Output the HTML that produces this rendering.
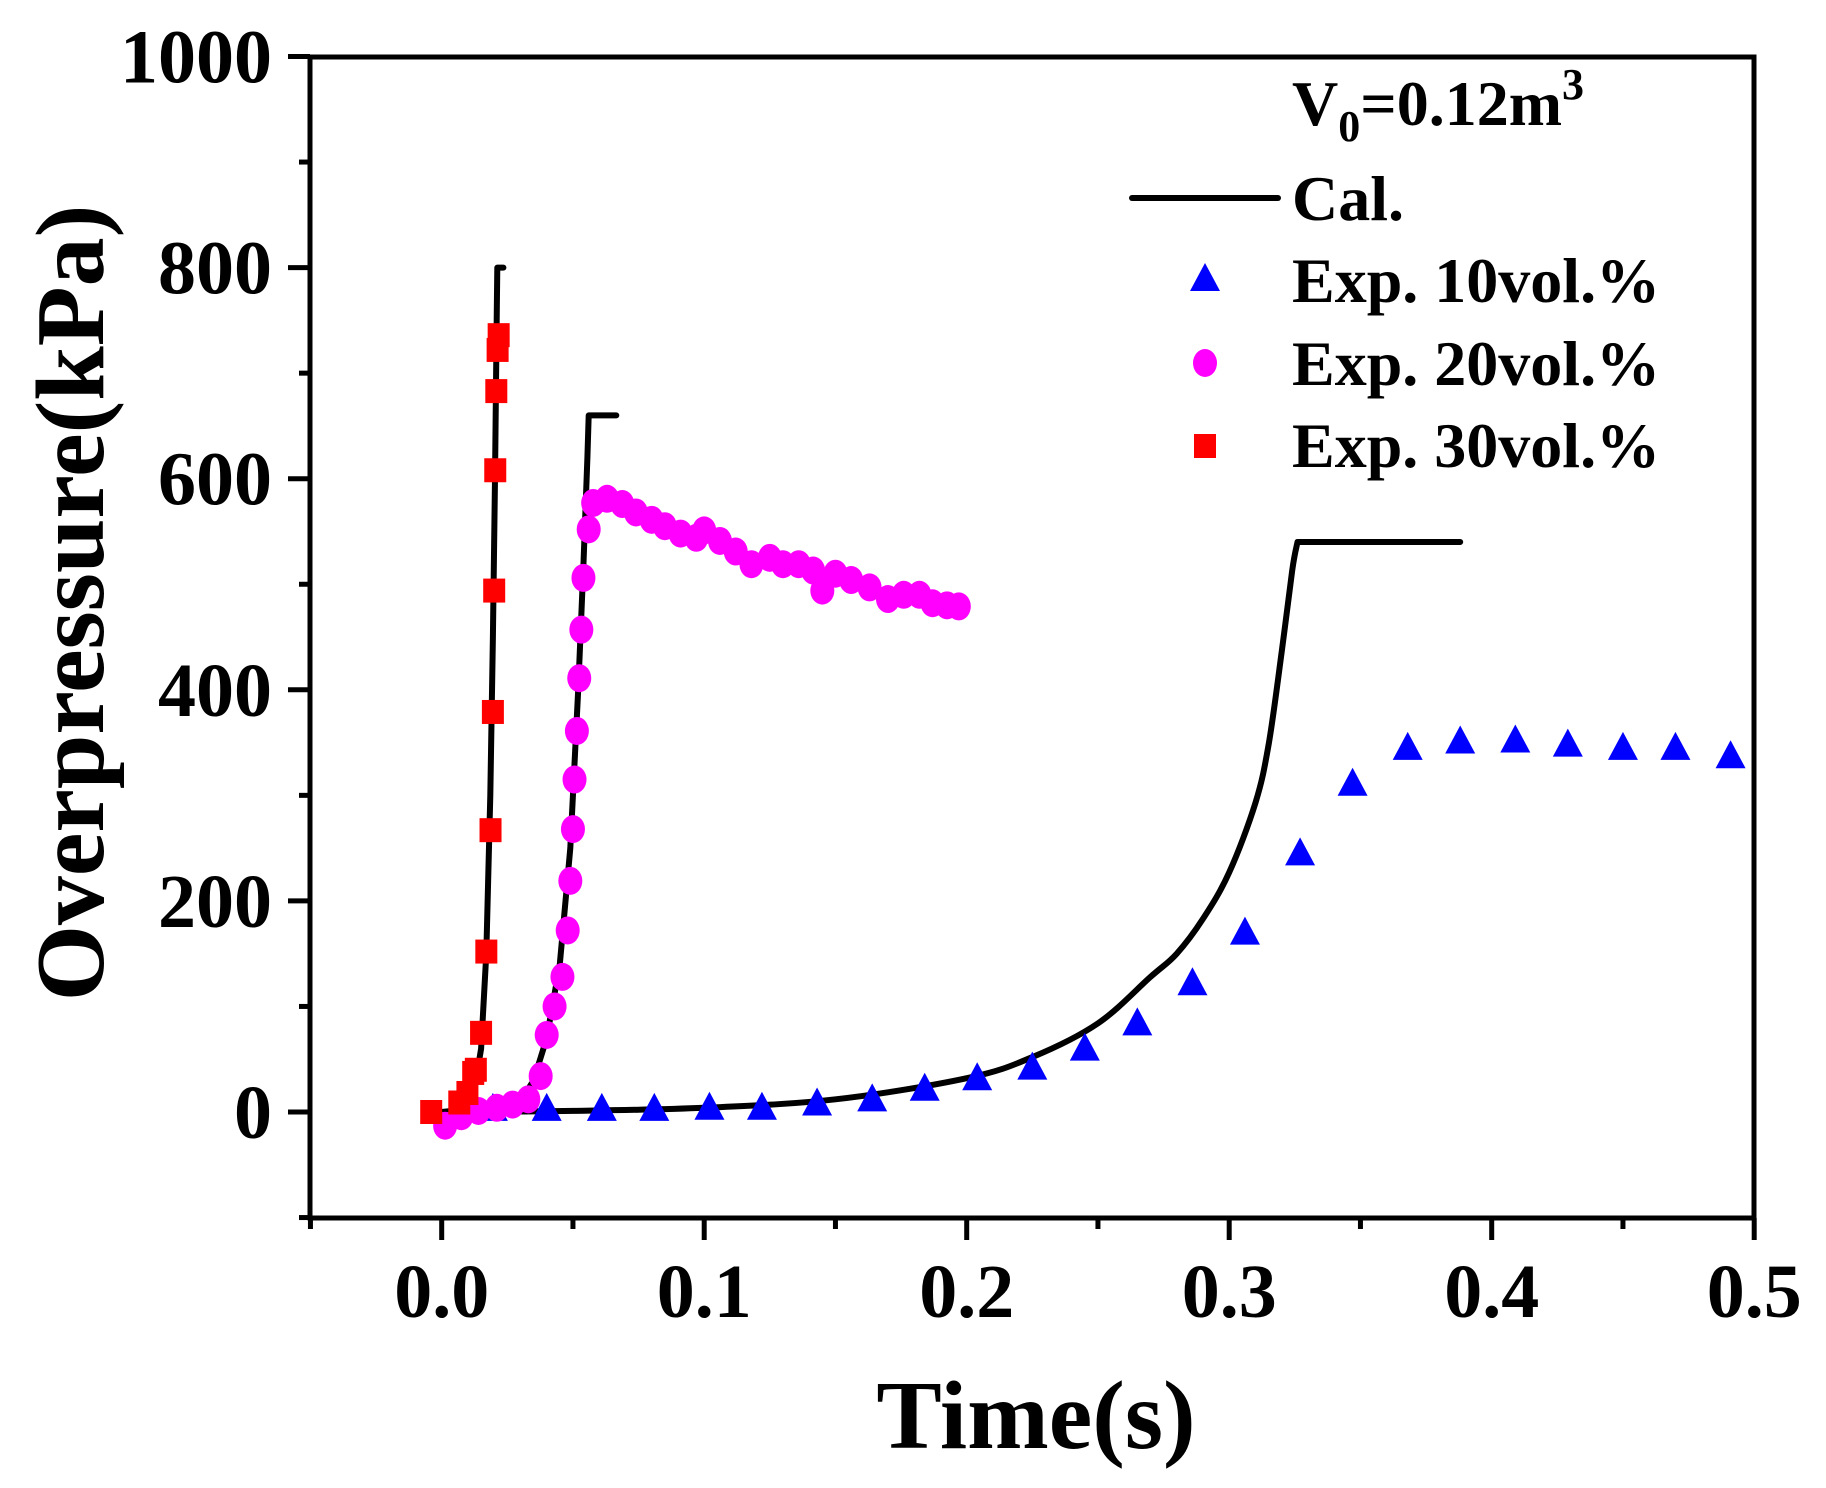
<!DOCTYPE html>
<html><head><meta charset="utf-8"><style>
html,body{margin:0;padding:0;background:#fff}
svg{display:block}
text{font-family:"Liberation Serif",serif;font-weight:bold;fill:#000}
</style></head><body>
<svg id="chart" width="1826" height="1488" viewBox="0 0 1826 1488" xmlns="http://www.w3.org/2000/svg">
<g id="plot"></g>
</svg>
<script>
const xTicks=[0.0,0.1,0.2,0.3,0.4,0.5];
const xTickLabels=["0.0","0.1","0.2","0.3","0.4","0.5"];
const yTicks=[0,200,400,600,800,1000];
const yTickLabels=["0","200","400","600","800","1000"];
const calTime30=[0,0.008,0.012,0.015,0.017,0.0185,0.0195,0.0203,0.021,0.0212,0.0235];
const calP30=[0,2,15,60,150,300,450,600,760,800,800];
const calTime20=[0.02,0.03,0.035,0.04,0.045,0.049,0.052,0.054,0.0555,0.056,0.0665];
const calP20=[0,10,30,70,140,250,400,520,620,660,660];
const calTime10=[0,0.05,0.1,0.15,0.2,0.225,0.25,0.27,0.28,0.29,0.3,0.31,0.315,0.32,0.324,0.326,0.388];
const calP10=[0,1,4,12,32,52,84,128,150,183,227,293,348,436,513,540,540];
const exp10Time=[0.0195,0.04,0.061,0.081,0.102,0.122,0.143,0.164,0.184,0.204,0.225,0.245,0.265,0.286,0.306,0.327,0.347,0.368,0.388,0.409,0.429,0.45,0.47,0.491];
const exp10P=[3,3,3,3,4,4,8,12,22,32,42,60,84,122,170,245,311,345,351,352,348,345,345,337];
const exp20Time=[0.0013,0.0075,0.014,0.021,0.027,0.033,0.0377,0.04,0.043,0.046,0.048,0.049,0.05,0.0506,0.0515,0.0524,0.0532,0.054,0.056,0.0577,0.063,0.0688,0.074,0.08,0.085,0.091,0.097,0.1,0.106,0.112,0.118,0.125,0.13,0.136,0.1415,0.145,0.15,0.156,0.163,0.17,0.176,0.182,0.187,0.1925,0.197];
const exp20P=[-13,-4,1,4,7,12,34,73,100,128,172,219,268,315,361,411,457,506,552,577,581,576,568,561,555,548,544,551,541,531,519,525,519,519,513,494,510,504,497,486,490,490,482,480,479];
const exp30Time=[-0.004,0.0067,0.0098,0.012,0.013,0.015,0.017,0.0186,0.0195,0.02,0.0204,0.0208,0.0213,0.0217];
const exp30P=[0,9,18,37,40,75,152,267,379,494,608,683,722,736];

const L=310,R=1754,T=57,B=1218;
const X=t=>441.7+(t-0)*2625;
const Y=p=>1112-p*1.0555;
const NS="http://www.w3.org/2000/svg";
const g=document.getElementById('plot');
function mk(tag,attrs,parent){const e=document.createElementNS(NS,tag);for(const k in attrs)e.setAttribute(k,attrs[k]);(parent||g).appendChild(e);return e;}

const frame=mk('rect',{x:L,y:T,width:R-L,height:B-T,fill:'none',stroke:'#000','stroke-width':5});



for(let v=-100;v<=1000;v+=100){
  const major=(v%200===0);
  const tk=mk('line',{x1:L-(major?22:11),x2:L,y1:Y(v),y2:Y(v),stroke:'#000','stroke-width':5});
  
  
}
yTicks.forEach((v,i)=>{
  const t=mk('text',{x:272,y:Y(v)+26,'text-anchor':'end','font-size':76});
  t.textContent=yTickLabels[i];
  
  
});
for(let k=-1;k<=10;k++){
  const v=k*0.05;const major=(k%2===0);
  const tk=mk('line',{x1:X(v),x2:X(v),y1:B,y2:B+(major?22:11),stroke:'#000','stroke-width':5});
  
  
}
xTicks.forEach((v,i)=>{
  const t=mk('text',{x:X(v),y:1317,'text-anchor':'middle','font-size':76});
  t.textContent=xTickLabels[i];
  
  
});
const xt=mk('text',{x:1036,y:1448,'text-anchor':'middle','font-size':98});
xt.textContent='Time(s)';


const yt=mk('text',{x:0,y:0,'text-anchor':'middle','font-size':98,transform:'translate(103,603) rotate(-90)'});
yt.textContent='Overpressure(kPa)';



function line(ts,ps,name,smooth){
  const P=ts.map((t,i)=>[X(t),Y(ps[i])]);
  let d='M'+P[0][0].toFixed(1)+','+P[0][1].toFixed(1);
  for(let i=0;i<P.length-1;i++){
    if(!smooth||i>=P.length-2){d+=' L'+P[i+1][0].toFixed(1)+','+P[i+1][1].toFixed(1);continue;}
    const p0=P[Math.max(0,i-1)],p1=P[i],p2=P[i+1],p3=P[Math.min(P.length-2,i+2)];
    const c1=[p1[0]+(p2[0]-p0[0])/6,p1[1]+(p2[1]-p0[1])/6];
    const c2=[p2[0]-(p3[0]-p1[0])/6,p2[1]-(p3[1]-p1[1])/6];
    d+=` C${c1[0].toFixed(1)},${c1[1].toFixed(1)} ${c2[0].toFixed(1)},${c2[1].toFixed(1)} ${p2[0].toFixed(1)},${p2[1].toFixed(1)}`;
  }
  const pl=mk('path',{d:d,fill:'none',stroke:'#000','stroke-width':6,'stroke-linejoin':'round','stroke-linecap':'round'});
  
  
}
line(calTime10,calP10,'cal-line-10vol',true);
line(calTime20,calP20,'cal-line-20vol',false);
line(calTime30,calP30,'cal-line-30vol',false);

function tri(cx,cy,parent){return mk('polygon',{points:`${cx},${cy-16} ${cx-15},${cy+12} ${cx+15},${cy+12}`,fill:'#0000ff'},parent);}
exp10Time.forEach((t,i)=>{
  const m=tri(X(t),Y(exp10P[i]));
  
  
});
exp20Time.forEach((t,i)=>{
  const m=mk('ellipse',{cx:X(t),cy:Y(exp20P[i]),rx:12,ry:14,fill:'#ff00ff'});
  
  
});
exp30Time.forEach((t,i)=>{
  const m=mk('rect',{x:X(t)-11,y:Y(exp30P[i])-12,width:22,height:24,fill:'#ff0000'});
  
  
});

const lg=mk('g',{});


const v0=mk('text',{x:1292,y:125,'font-size':64},lg);
v0.innerHTML='V<tspan font-size="44" dy="16">0</tspan><tspan dy="-16">=0.12m</tspan><tspan font-size="44" dy="-26">3</tspan>';


const ll=mk('line',{x1:1132,x2:1278,y1:198,y2:198,stroke:'#000','stroke-width':6,'stroke-linecap':'round'},lg);


const lt=tri(1205,279,lg);


const lc=mk('ellipse',{cx:1205,cy:363,rx:12,ry:14,fill:'#ff00ff'},lg);


const ls=mk('rect',{x:1194,y:434,width:22,height:24,fill:'#ff0000'},lg);


[['Cal.',220,'legend-entry-cal'],['Exp. 10vol.%',302,'legend-entry-10vol'],['Exp. 20vol.%',385,'legend-entry-20vol'],['Exp. 30vol.%',467,'legend-entry-30vol']].forEach(a=>{
  const t=mk('text',{x:1292,y:a[1],'font-size':64},lg);
  t.textContent=a[0];
  
  
});
</script>
</body></html>
